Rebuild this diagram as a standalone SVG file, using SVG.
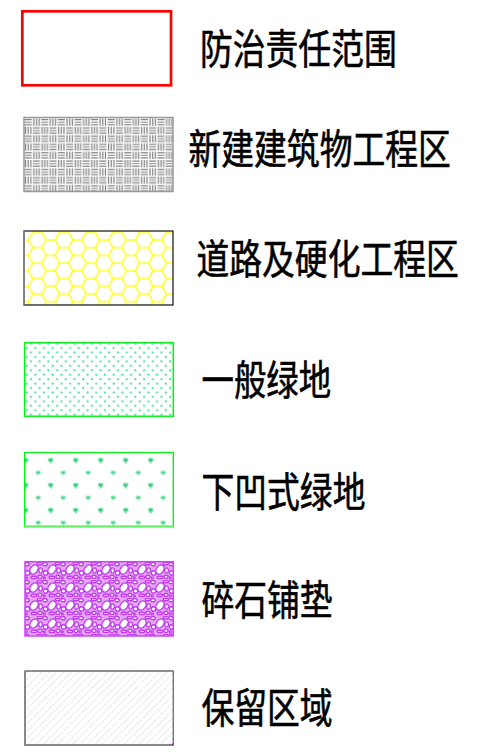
<svg xmlns="http://www.w3.org/2000/svg" width="479" height="753" viewBox="0 0 479 753">
<style>
.lbl{font-family:"Noto Sans CJK SC","Noto Sans CJK JP",sans-serif;font-size:41px;fill:#000;stroke:#000;stroke-width:0.6px;}
.peb{fill:#fff;stroke:#c43cf0;stroke-width:1.4;}
</style>
<defs>
<pattern id="weave" patternUnits="userSpaceOnUse" x="24" y="118" width="16.6" height="16.6">
<rect width="16.6" height="16.6" fill="#fff"/>
<path d="M0.6,1.5H7.7M0.6,4.15H7.7M0.6,6.8H7.7M9.8,0.6V7.7M12.45,0.6V7.7M15.1,0.6V7.7M1.5,8.9V16M4.15,8.9V16M6.8,8.9V16M8.9,9.8H16M8.9,12.45H16M8.9,15.1H16" stroke="#808080" stroke-width="1.2" fill="none"/>
</pattern>
<pattern id="hex" patternUnits="userSpaceOnUse" x="37.35" y="240" width="26.7" height="15.41">
<path d="M0,7.705H4.45L8.9,0H17.8L22.25,7.705H26.7M22.25,7.705L17.8,15.41H8.9L4.45,7.705" stroke="#ffff22" stroke-width="1.5" fill="none"/>
</pattern>
<pattern id="dots" patternUnits="userSpaceOnUse" x="28.8" y="341.5" width="8.7" height="8.87">
<rect x="1.3" y="1.3" width="1.8" height="1.8" fill="#2ad884"/>
<rect x="5.6" y="5.7" width="1.8" height="1.8" fill="#2ad884"/>
</pattern>
<pattern id="grass" patternUnits="userSpaceOnUse" x="19.45" y="454.45" width="25" height="25">
<path d="M3.6,6.25H8.9M6.25,3.6V9M4.3,3.8L5.4,6.25M8.2,3.8L7.1,6.25" stroke="#1ccc70" stroke-width="1.2" fill="none"/>
<path d="M16.1,18.75H21.4M18.75,16.6V20.8M16.9,16.4L18,18.75M20.6,16.4L19.5,18.75" stroke="#40d888" stroke-width="1.2" fill="none"/>
</pattern>
<pattern id="pebble" patternUnits="userSpaceOnUse" x="25" y="562" width="18" height="18">
<rect width="18" height="18" fill="#e6a6f6"/>
<ellipse class="peb" cx="9" cy="7.5" rx="5" ry="3.6" transform="rotate(-55 9 7.5)"/>
<ellipse class="peb" cx="2" cy="2.2" rx="2.3" ry="1.6"/>
<rect class="peb" x="12.3" y="0.6" width="5" height="2.2" rx="0.9"/>
<ellipse class="peb" cx="15.6" cy="8.5" rx="1.8" ry="2.6"/>
<ellipse class="peb" cx="2.5" cy="11" rx="2.3" ry="2.2"/>
<rect class="peb" x="6.2" y="14.2" width="5.4" height="2.3" rx="0.9"/>
<ellipse class="peb" cx="15" cy="14.8" rx="2.1" ry="1.6"/>
<circle class="peb" cx="1.2" cy="16" r="1.1"/>
</pattern>
<pattern id="hatch" patternUnits="userSpaceOnUse" width="5.2" height="10" patternTransform="rotate(45)">
<line x1="0" y1="0" x2="0" y2="10" stroke="#c8c8c8" stroke-width="1" stroke-dasharray="2 1"/>
</pattern>
</defs>

<g id="item-responsibility">
<rect x="22.3" y="11.3" width="148.7" height="74" fill="#fff" stroke="#ff0000" stroke-width="2.7"/>
<text class="lbl" transform="translate(200 64) scale(0.8 1)">防治责任范围</text>
</g>

<g id="item-building">
<rect x="24" y="117.5" width="149" height="74" fill="url(#weave)" stroke="#999" stroke-width="1.5"/>
<text class="lbl" transform="translate(188.5 164) scale(0.8 1)">新建建筑物工程区</text>
</g>

<g id="item-road">
<rect x="24" y="231" width="149" height="74" fill="url(#hex)" stroke="#222" stroke-width="1.3"/>
<line x1="24" y1="231" x2="24" y2="305" stroke="#888" stroke-width="1.6"/>
<text class="lbl" transform="translate(196.5 274) scale(0.8 1)">道路及硬化工程区</text>
</g>

<g id="item-green">
<rect x="24.7" y="342.7" width="148.6" height="73.6" fill="url(#dots)" stroke="#11ee22" stroke-width="1.6"/>
<text class="lbl" transform="translate(201.5 395) scale(0.79 1)">一般绿地</text>
</g>

<g id="item-sunken">
<rect x="24.7" y="452.5" width="148.6" height="74" fill="url(#grass)" stroke="#11ee22" stroke-width="1.4"/>
<line x1="24" y1="526.5" x2="174" y2="526.5" stroke="#66ee66" stroke-width="1.8"/>
<text class="lbl" transform="translate(201.5 507) scale(0.8 1)">下凹式绿地</text>
</g>

<g id="item-gravel">
<rect x="25" y="561.7" width="148.3" height="74.3" fill="url(#pebble)" stroke="#cc44f4" stroke-width="1.5"/>
<text class="lbl" transform="translate(201.5 615) scale(0.8 1)">碎石铺垫</text>
</g>

<g id="item-reserved">
<rect x="25" y="671" width="148.3" height="74" fill="url(#hatch)"/>
<line x1="25" y1="671" x2="173.3" y2="671" stroke="#222" stroke-width="1.2"/>
<line x1="25" y1="670.5" x2="25" y2="745.5" stroke="#888" stroke-width="2"/>
<line x1="173.3" y1="670.5" x2="173.3" y2="745.5" stroke="#777" stroke-width="1.5"/>
<line x1="24" y1="745" x2="174" y2="745" stroke="#888" stroke-width="2"/>
<rect x="171.8" y="743.5" width="1.6" height="1.6" fill="#6622aa"/>
<text class="lbl" transform="translate(201.5 723) scale(0.8 1)">保留区域</text>
</g>

<g id="connectors"/>
</svg>
